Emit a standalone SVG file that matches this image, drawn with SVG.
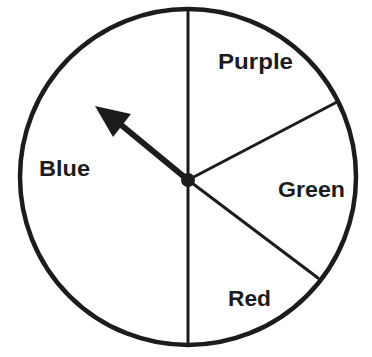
<svg xmlns="http://www.w3.org/2000/svg" width="372" height="357" viewBox="0 0 372 357">
  <style>
    .ln { stroke: #1c1c1c; stroke-width: 3; fill: none; stroke-linecap: round; }
    .lbl { font-family: "Liberation Sans", Arial, sans-serif; font-weight: bold; font-size: 22px; fill: #1c1c1c; }
  </style>
  <rect width="372" height="357" fill="#ffffff"/>
  <g id="spinner">
    <circle cx="188" cy="177" r="168" fill="none" stroke="#1c1c1c" stroke-width="4.5"/>
  </g>
  <g id="dividers">
    <line class="ln" x1="188" y1="10" x2="188" y2="344"/>
    <line class="ln" x1="188" y1="180" x2="337" y2="102"/>
    <line class="ln" x1="188" y1="180" x2="318" y2="278"/>
  </g>
  <g id="pointer">
    <line x1="188" y1="180" x2="120" y2="124" stroke="#1c1c1c" stroke-width="6"/>
    <polygon points="95,106 131,114 113,137" fill="#1c1c1c"/>
    <circle cx="188" cy="180" r="7" fill="#1c1c1c"/>
  </g>
  <g id="purple"><text class="lbl" x="218" y="69" textLength="75" lengthAdjust="spacingAndGlyphs">Purple</text></g>
  <g id="blue"><text class="lbl" x="39" y="176" textLength="51" lengthAdjust="spacingAndGlyphs">Blue</text></g>
  <g id="green"><text class="lbl" x="278" y="197" textLength="67" lengthAdjust="spacingAndGlyphs">Green</text></g>
  <g id="red"><text class="lbl" x="228" y="306" textLength="43" lengthAdjust="spacingAndGlyphs">Red</text></g>
</svg>
